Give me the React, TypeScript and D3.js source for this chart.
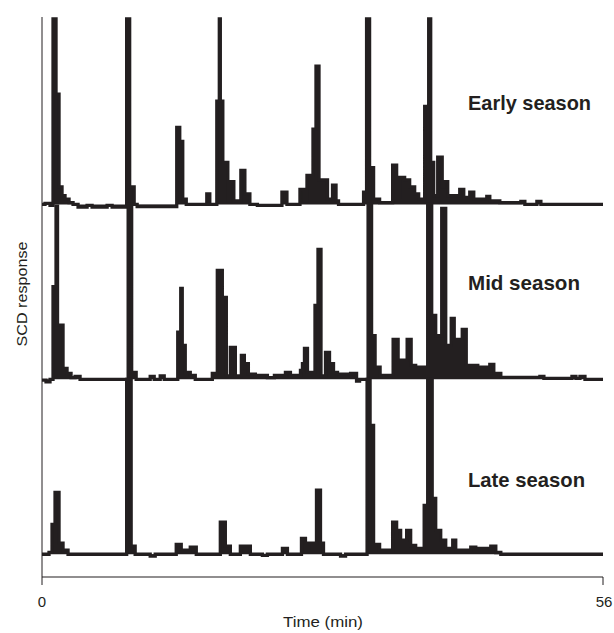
import React from "react";
import * as d3 from "d3";

const TIME_DOMAIN: [number, number] = [0, 56];
const TIME_TICKS = [0, 56];
const SERIES_NAMES = ["Early season", "Mid season", "Late season"];
const SERIES_OFFSETS = [200, 100, 0];

const early: [number, number][] = [
  [0, 0], [0.3, 0.6], [0.8, -0.5], [1.1, 106], [1.4, 63], [1.7, 10], [2.0, 5], [2.3, 3], [2.7, 1], [3.1, 0],
  [3.6, -1.5], [4.5, -0.5], [5.0, -1.5], [6.5, -0.5], [7.0, -1.5], [8.45, 106], [8.75, 10], [9.2, 0], [9.5, -1.2],
  [13.45, 44], [13.75, 36], [14.05, 3], [14.4, 0], [16.45, 6], [16.75, 0], [17.45, 59], [17.7, 106], [17.8, 59],
  [18.05, 24], [18.55, 2], [18.75, 13], [19.15, 2], [19.85, 19.4], [20.25, 6], [20.75, 0], [21.5, -0.5],
  [23.95, 7], [24.45, 0], [25.75, 8.6], [26.15, 2], [26.45, 16.6], [27.05, 43], [27.35, 79], [27.65, 14],
  [28.5, 3], [29.0, 11], [29.35, 2], [29.6, 0], [32.1, 7], [32.4, 106], [32.7, 21], [33.1, 3], [33.7, 1],
  [35.0, 22.5], [35.4, 4], [35.7, 15.4], [36.2, 14], [36.7, 10], [37.2, 6], [37.6, 3], [38.2, 56], [38.6, 106],
  [38.8, 24], [39.1, 5], [39.5, 27], [39.95, 10], [40.1, 13], [40.5, 5], [41.7, 8.6], [42.1, 4], [42.7, 7],
  [43.1, 3], [44.4, 4.6], [44.7, 2], [45.7, 1], [47.8, 1.7], [48.2, 0], [49.4, 1.7], [49.8, 0], [56, 0],
];

const mid: [number, number][] = [
  [0, -0.5], [0.4, -1.5], [0.8, 0], [1.1, 53], [1.4, 99], [1.55, 31], [2.1, 6.3], [2.5, 3.4], [2.9, 1], [3.3, 1.7],
  [3.8, 0], [8.6, 100], [8.95, 4], [9.4, 0], [10.8, 1.7], [11.2, 0], [11.8, 2], [12.2, 0], [13.55, 27], [13.85, 52],
  [14.0, 19.4], [14.3, 4], [14.8, 2.3], [15.3, 0], [17.0, 3.4], [17.5, 62.3], [18.0, 46.9], [18.4, 2], [18.8, 18.3],
  [19.3, 2], [19.9, 13.7], [20.2, 9], [20.6, 3], [21.3, 2.3], [22.5, 1], [23.2, 2.3], [24.3, 4], [24.8, 2.3],
  [25.8, 5.1], [26.0, 9], [26.2, 17.7], [26.5, 4], [27.25, 42.3], [27.55, 74.3], [27.85, 2], [28.3, 15.4], [28.7, 9],
  [29.1, 4], [29.5, 3], [30.8, 3.4], [31.4, -1], [31.7, 0], [32.55, 100], [32.9, 25], [33.25, 6.9], [33.75, 2.3],
  [35.05, 22.9], [35.55, 10.9], [36.45, 22.9], [36.85, 8], [37.3, 6.9], [38.5, 100], [38.9, 36.6], [39.3, 25],
  [39.9, 97.7], [40.3, 19.4], [40.85, 34.9], [41.15, 22.9], [41.95, 28.6], [42.35, 8], [43.5, 6.9], [44.7, 8.6],
  [45.1, 3.4], [45.8, 1.1], [49.7, 1.7], [50.1, 0.6], [52.9, 1.7], [53.3, 0.6], [53.7, 1.7], [54.2, 0], [56, 0],
];

const late: [number, number][] = [
  [0, 0], [0.7, 1.1], [1.0, 17.1], [1.3, 35.4], [1.7, 6.3], [2.1, 2.3], [2.6, 0], [8.45, 100], [8.9, 4.6], [9.3, 0],
  [10.8, -1], [11.3, 0], [13.4, 5.7], [13.9, 2.3], [14.8, 4], [15.4, 0], [17.8, 18.3], [18.3, 4.6], [18.8, 0],
  [19.8, 4.6], [20.8, 0], [22.0, -0.6], [22.5, 0], [24.0, 3.4], [24.5, 0], [25.9, 9.1], [26.3, 3.4], [26.6, 6.3],
  [27.4, 36.6], [27.8, 6.3], [28.1, 0], [29.8, -1], [30.3, 0], [32.45, 100], [32.75, 73.7], [33.1, 5.7], [33.7, 2.3],
  [35.0, 18.3], [35.4, 13.7], [35.8, 8], [36.4, 13.7], [36.8, 5], [37.3, 3.4], [38.15, 28], [38.5, 100], [38.95, 32],
  [39.3, 13.7], [39.8, 8], [40.3, 3.4], [41.0, 8], [41.3, 2.3], [42.8, 4], [43.3, 3.4], [44.8, 4.6], [45.3, 1],
  [45.8, 0], [56, 0],
];

const SERIES = [early, mid, late];

const W = 614;
const H = 633;
const FONT = "'Liberation Sans Narrow', 'Arial Narrow', 'Liberation Sans', sans-serif";
const INK = "#231f20";

export default function App() {
  const x = d3.scaleLinear().domain(TIME_DOMAIN).range([42, 603]);
  const y = d3.scaleLinear().domain([-13, 306]).range([577, 19]);
  const yTop = 17;
  const y0 = y(-13);

  return (
    <svg width={W} height={H} style={{ position: "absolute", left: 0, top: 0, background: "#fff" }}>
      {SERIES.map((s, i) => {
        const off = SERIES_OFFSETS[i];
        const line = d3
          .line<[number, number]>()
          .x((d) => x(d[0]))
          .y((d) => y(d[1] + off))
          .curve(d3.curveStepAfter);
        const area = d3
          .area<[number, number]>()
          .x((d) => x(d[0]))
          .y0(y(off))
          .y1((d) => y(d[1] + off))
          .curve(d3.curveStepAfter);
        return (
          <g key={SERIES_NAMES[i]}>
            <path d={area(s) || ""} fill={INK} stroke="none" />
            <path
              d={line(s) || ""}
              fill="none"
              stroke={INK}
              strokeWidth={3.3}
              strokeLinejoin="miter"
              strokeMiterlimit={2}
            />
          </g>
        );
      })}

      {/* axes */}
      <line x1={x(0)} x2={x(0)} y1={yTop} y2={y0} stroke={INK} strokeWidth={1} />
      <line x1={x(0)} x2={x(56)} y1={y0} y2={y0} stroke={INK} strokeWidth={1.2} />
      {TIME_TICKS.map((t) => (
        <g key={t}>
          <line x1={x(t)} x2={x(t)} y1={y0} y2={y0 + 8} stroke={INK} strokeWidth={1} />
          <text
            x={x(t) + (t === 56 ? 1 : 0)}
            y={607}
            textAnchor="middle"
            fontFamily={FONT}
            fontSize={15}
            fill={INK}
          >
            {t}
          </text>
        </g>
      ))}
      <text
        x={323}
        y={627}
        textAnchor="middle"
        fontFamily={FONT}
        fontSize={15}
        fill={INK}
        textLength={80}
        lengthAdjust="spacingAndGlyphs"
      >
        Time (min)
      </text>
      <text
        transform={`translate(27,294) rotate(-90)`}
        textAnchor="middle"
        fontFamily={FONT}
        fontSize={15}
        fill={INK}
        textLength={105}
        lengthAdjust="spacingAndGlyphs"
      >
        SCD response
      </text>

      {SERIES_NAMES.map((name, i) => {
        const baselines = [110, 290, 487];
        const widths = [123, 112, 117];
        return (
          <text
            key={name}
            x={468}
            y={baselines[i]}
            fontFamily={FONT}
            fontWeight="bold"
            fontSize={21}
            fill={INK}
            textLength={widths[i]}
            lengthAdjust="spacingAndGlyphs"
          >
            {name}
          </text>
        );
      })}
    </svg>
  );
}
